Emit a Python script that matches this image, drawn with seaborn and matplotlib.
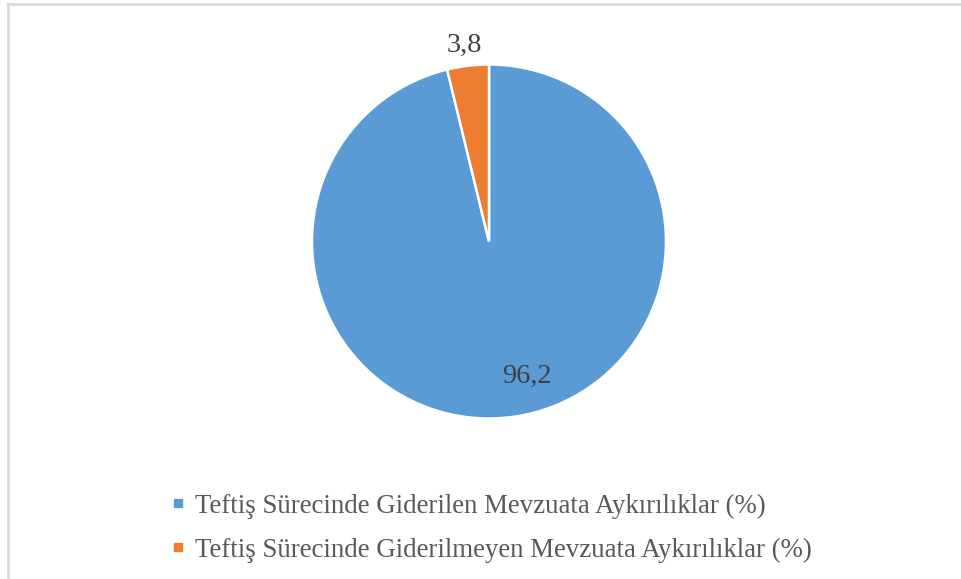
import matplotlib
matplotlib.use("Agg")
import matplotlib.pyplot as plt
from matplotlib.lines import Line2D
import seaborn as sns

categories = [
    "Teftiş Sürecinde Giderilen Mevzuata Aykırılıklar (%)",
    "Teftiş Sürecinde Giderilmeyen Mevzuata Aykırılıklar (%)",
]
values = [96.2, 3.8]
value_labels = ["96,2", "3,8"]
colors = ["#5B9BD5", "#ED7D31"]

sns.set_theme(style="white")
plt.rcParams["font.family"] = ["Liberation Serif", "DejaVu Serif"]

W, H = 962, 579
fig = plt.figure(figsize=(W / 100, H / 100), dpi=100)
fig.patch.set_facecolor("white")

R = 177.0
cx, cy = 489.0, 241.5
ax = fig.add_axes([0, 0, 1, 1])
ax.axis("off")

wedges, _ = ax.pie(
    values, colors=colors, startangle=90, counterclock=False, radius=1.0,
    wedgeprops=dict(edgecolor="white", linewidth=1.8),
)
ax.set_aspect("auto")
ax.set_xlim(-cx / R, (W - cx) / R)
ax.set_ylim(-(H - cy) / R, cy / R)

# data labels
ax.text(0.215, -0.76, value_labels[0], ha="center", va="center",
        fontsize=20.5, color="#404040")
ax.text(-0.141, 1.11, value_labels[1], ha="center", va="center",
        fontsize=20.5, color="#404040")

handles = [Line2D([0], [0], marker="s", linestyle="none", markersize=5.5,
                  markerfacecolor=c, markeredgecolor=c) for c in colors]
leg = fig.legend(handles, categories, loc="upper left",
                 bbox_to_anchor=(171 / W, 1 - 493.5 / H), frameon=False,
                 fontsize=19.4, handlelength=0.5, handletextpad=0.38,
                 labelspacing=0.71, borderaxespad=0, borderpad=0)
for t in leg.get_texts():
    t.set_color("#595959")

# chart border (top and left visible)
fig.add_artist(Line2D([7 / W, 1], [1 - 4 / H, 1 - 4 / H], transform=fig.transFigure,
                      color="#D9D9D9", linewidth=2))
fig.add_artist(Line2D([8 / W, 8 / W], [0, 1 - 4 / H], transform=fig.transFigure,
                      color="#D9D9D9", linewidth=2))

fig.savefig("out.png", dpi=100, facecolor="white")
